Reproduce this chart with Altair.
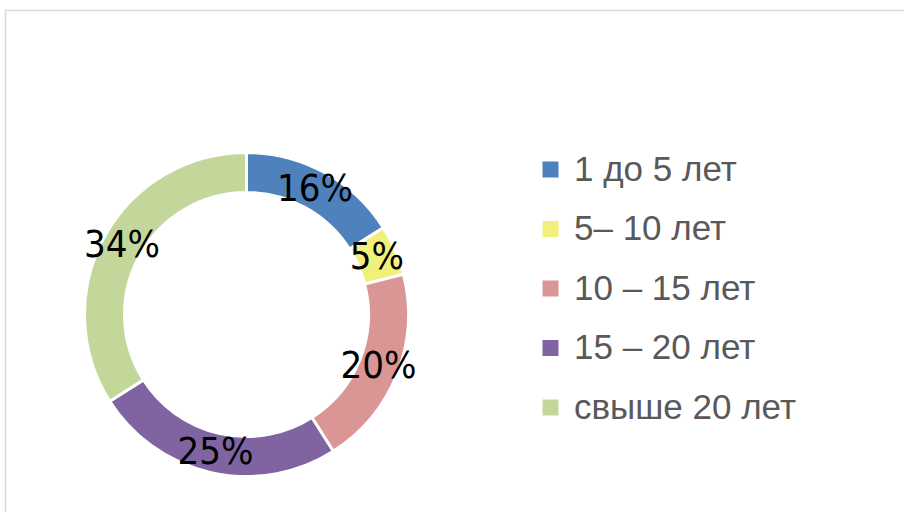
import altair as alt
import pandas as pd

categories = ["1 до 5 лет", "5– 10 лет", "10 – 15 лет", "15 – 20 лет", "свыше 20 лет"]
values = [16, 5, 20, 25, 34]
colors = ["#4F81BD", "#F0F07A", "#D99694", "#8064A2", "#C4D79B"]

df = pd.DataFrame({
    "category": categories,
    "value": values,
    "label": [f"{v}%" for v in values],
    "idx": list(range(len(categories))),
})

CX, CY = 246.5, 314.5

base = alt.Chart(df).encode(
    theta=alt.Theta("value:Q", stack=True),
    order=alt.Order("idx:Q"),
    x=alt.value(CX),
    y=alt.value(CY),
)

arcs = base.mark_arc(outerRadius=162, innerRadius=122, stroke="white", strokeWidth=3).encode(
    color=alt.Color(
        "category:N",
        sort=categories,
        scale=alt.Scale(domain=categories, range=colors),
        legend=alt.Legend(
            title=None,
            orient="none",
            legendX=533,
            legendY=152,
            symbolType="square",
            symbolSize=256,
            symbolStrokeWidth=0,
            labelFont="Liberation Sans",
            labelFontSize=35,
            labelColor="#595959",
            labelOffset=6,
            rowPadding=23.5,
            padding=0,
            labelLimit=400,
        ),
    )
)

labels = base.mark_text(
    radius=142, font="'DejaVu Sans Condensed', 'Liberation Sans', sans-serif", fontSize=38,
    align="center", baseline="middle", color="black"
).encode(text="label:N")

border = alt.Chart(pd.DataFrame({"a": [0]})).mark_rect(
    fill=None, stroke="#d9d9d9", strokeWidth=1.5
).encode(
    x=alt.value(5.5), y=alt.value(10.5), x2=alt.value(920), y2=alt.value(530)
)

chart = alt.layer(border, arcs, labels).properties(
    width=904, height=512, autosize=alt.AutoSizeParams(type="none"), padding=0
).configure_view(stroke=None)

chart.save("out.html", embed_options={"renderer": "svg", "actions": False})
